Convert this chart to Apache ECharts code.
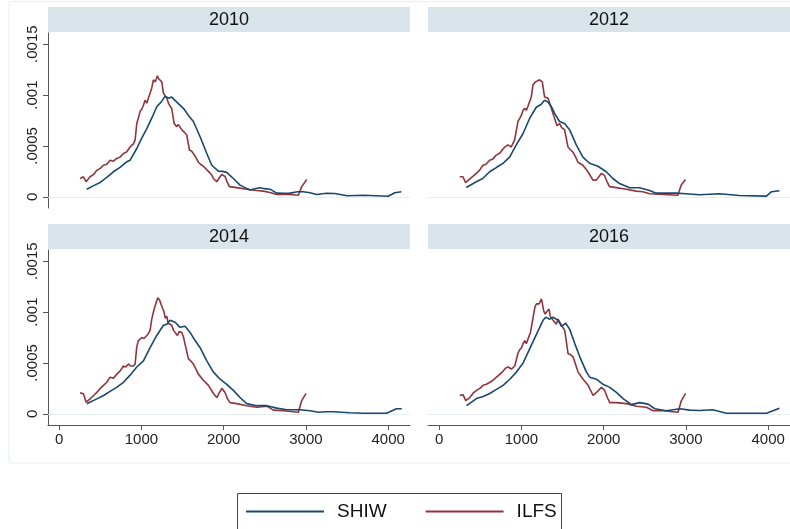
<!DOCTYPE html>
<html><head><meta charset="utf-8">
<script src="https://cdn.jsdelivr.net/npm/echarts@6/dist/echarts.min.js"></script>
<style>html,body{margin:0;padding:0;background:#fff}#c{width:790px;height:529px}</style>
</head><body><div id="c"></div>
<script>
const panelTitles = ['2010', '2012', '2014', '2016'];
const seriesNames = ['SHIW', 'ILFS'];
const xTickValues = [0, 1000, 2000, 3000, 4000];
const yTickValues = [0, 0.0005, 0.001, 0.0015];
const yTickLabels = ['0', '.0005', '.001', '.0015'];
const yGridValues = [0, 0.0005, 0.001];

const shiw2010X = [336,420,499,580,660,740,822,863,944,1000,1066,1130,1187,1248,1288,1329,1369,1430,1511,1572,1632,1714,1795,1855,1936,1990,2037,2118,2199,2260,2321,2380,2442,2500,2564,2645,2730,2807,2900,2969,3050,3130,3250,3350,3500,3700,3850,4000,4080,4160];
const shiw2010Y = [0.000075,0.00011,0.000141,0.00019,0.000246,0.00029,0.000344,0.00036,0.000475,0.00057,0.00067,0.00078,0.000885,0.00094,0.00099,0.00097,0.00098,0.00093,0.00087,0.0008,0.00074,0.00059,0.000426,0.00031,0.000252,0.00025,0.00024,0.00018,0.000115,0.00009,0.000066,0.00008,0.000089,0.00008,0.000075,0.000036,0.000035,0.000036,0.00005,0.00005,0.00004,0.000023,0.000035,0.000033,0.00001,0.000015,0.00001,0.000005,0.00004,0.00005];
const ilfs2010X = [255,296,328,377,420,458,500,539,580,620,660,701,740,782,820,863,903,924,944,965,985,1005,1025,1045,1066,1086,1106,1126,1146,1170,1195,1210,1227,1248,1268,1290,1309,1329,1350,1369,1398,1430,1450,1470,1490,1511,1551,1584,1610,1632,1660,1693,1720,1754,1815,1850,1876,1916,1950,1977,2017,2040,2070,2159,2280,2402,2483,2564,2645,2807,2908,2949,3010];
const ilfs2010Y = [0.00018,0.000197,0.000148,0.000197,0.00022,0.00026,0.00028,0.00031,0.00032,0.00036,0.00035,0.000377,0.00039,0.000426,0.00044,0.00049,0.00052,0.00056,0.00072,0.00078,0.00084,0.00086,0.0009,0.00095,0.00092,0.00097,0.00098,0.00107,0.00115,0.00113,0.00119,0.00116,0.00115,0.00113,0.00102,0.00099,0.00097,0.00092,0.00089,0.00087,0.00072,0.00069,0.00071,0.0007,0.00066,0.00067,0.00061,0.00046,0.00045,0.00044,0.00039,0.00034,0.00032,0.0003,0.00025,0.00022,0.00018,0.000148,0.00019,0.00022,0.0002,0.00015,0.0001,0.00009,0.000075,0.000062,0.000056,0.000043,0.000023,0.000023,0.000016,0.0001,0.00017];

const shiw2012X = [330,452,530,614,700,776,857,938,1019,1100,1181,1242,1282,1323,1363,1404,1464,1525,1586,1667,1748,1829,1930,2032,2112,2193,2315,2436,2558,2639,2882,3000,3165,3408,3651,3979,4040,4137];
const shiw2012Y = [0.000092,0.000148,0.00018,0.000246,0.00029,0.000328,0.00039,0.00051,0.00062,0.00077,0.00088,0.00091,0.00095,0.00093,0.00089,0.00082,0.00074,0.00072,0.00066,0.00051,0.00039,0.00033,0.0003,0.000246,0.00018,0.00013,0.000089,0.000089,0.000062,0.000036,0.000036,0.00003,0.00002,0.00003,0.000013,0.000007,0.00005,0.00006];
const ilfs2012X = [250,290,322,371,410,452,490,533,570,614,650,695,740,776,800,837,877,918,958,980,999,1020,1039,1060,1080,1100,1120,1141,1173,1195,1221,1254,1282,1300,1323,1340,1363,1404,1432,1464,1490,1525,1566,1600,1627,1660,1688,1748,1809,1870,1910,1945,1971,2011,2040,2072,2153,2275,2396,2477,2558,2720,2902,2943,2995];
const ilfs2012Y = [0.000197,0.000197,0.00014,0.000174,0.0002,0.00023,0.00026,0.00031,0.00032,0.00036,0.00037,0.00041,0.00043,0.00047,0.00049,0.00051,0.00049,0.00056,0.00074,0.00077,0.0008,0.00085,0.00087,0.00085,0.00089,0.0009,0.00098,0.0011,0.00113,0.00112,0.00115,0.00113,0.00098,0.00099,0.00097,0.00093,0.00092,0.00077,0.0007,0.00072,0.00068,0.00066,0.00049,0.00046,0.00044,0.00039,0.00034,0.00031,0.000246,0.000164,0.000164,0.0002,0.00023,0.00021,0.00015,0.0001,0.00009,0.000075,0.000056,0.00005,0.00003,0.000023,0.000016,0.000115,0.00017];

const shiw2014X = [336,458,540,620,700,782,863,944,1025,1106,1187,1268,1309,1349,1410,1470,1531,1592,1653,1714,1795,1876,1957,2037,2118,2199,2280,2402,2524,2645,2767,2929,3050,3151,3250,3330,3535,3700,3980,4100,4165];
const shiw2014Y = [0.000098,0.000147,0.00018,0.00022,0.00026,0.00031,0.00038,0.00046,0.00052,0.00065,0.00077,0.00087,0.00088,0.00092,0.0009,0.00085,0.00086,0.0008,0.00072,0.00065,0.00052,0.00041,0.00034,0.00029,0.00023,0.00016,0.0001,0.00008,0.00008,0.000056,0.00004,0.00004,0.00003,0.000016,0.00002,0.00002,0.00001,0.000006,0.000006,0.00005,0.00005];
const ilfs2014X = [255,296,328,377,420,458,500,539,580,620,660,701,740,782,810,843,870,903,924,944,964,985,1005,1030,1066,1086,1106,1126,1146,1167,1199,1220,1236,1256,1276,1290,1309,1325,1341,1369,1390,1410,1438,1460,1491,1510,1531,1572,1600,1632,1693,1754,1815,1876,1916,1950,1977,2017,2045,2078,2159,2280,2402,2524,2605,2726,2908,2949,3001];
const ilfs2014Y = [0.000206,0.000196,0.000114,0.000147,0.00018,0.00021,0.00025,0.00028,0.00031,0.00036,0.00035,0.00039,0.00042,0.00047,0.00046,0.00049,0.00047,0.00047,0.00049,0.00066,0.00072,0.00073,0.00075,0.00074,0.00077,0.00079,0.00082,0.00093,0.001,0.00106,0.00114,0.00112,0.00111,0.00104,0.001,0.00094,0.00096,0.00089,0.0009,0.00087,0.00082,0.00083,0.00077,0.00081,0.0008,0.00076,0.00075,0.00054,0.00052,0.00049,0.00039,0.00033,0.00028,0.0002,0.00016,0.00021,0.00025,0.00021,0.00015,0.00011,0.0001,0.00008,0.000065,0.000075,0.000036,0.00003,0.000016,0.00013,0.0002];

const shiw2016X = [333,454,535,616,697,778,859,940,1021,1102,1183,1264,1296,1345,1386,1446,1487,1539,1588,1649,1710,1791,1831,1912,1993,2074,2155,2236,2337,2438,2540,2621,2763,2925,3046,3168,3325,3493,3775,3979,4137];
const shiw2016Y = [0.00008,0.00015,0.00017,0.0002,0.00024,0.00028,0.00034,0.00041,0.0005,0.00064,0.00078,0.00092,0.00095,0.00093,0.00095,0.00092,0.00086,0.00089,0.00083,0.00069,0.00056,0.00041,0.00036,0.00034,0.00029,0.00026,0.00021,0.00015,0.00009,0.00011,0.000095,0.00005,0.00003,0.00005,0.000036,0.000033,0.00004,0.000006,0.000006,0.000006,0.000055];
const ilfs2016X = [251,292,324,373,410,454,495,535,575,616,655,697,740,778,810,839,879,920,960,980,1001,1020,1041,1060,1082,1110,1143,1165,1183,1215,1244,1272,1290,1305,1337,1350,1365,1386,1406,1425,1446,1487,1527,1568,1600,1628,1689,1750,1811,1872,1912,1973,2013,2045,2074,2155,2277,2398,2520,2601,2722,2904,2945,2997];
const ilfs2016Y = [0.00018,0.000186,0.00013,0.00016,0.0002,0.00023,0.00025,0.00028,0.00029,0.00031,0.00033,0.00036,0.00039,0.00042,0.00045,0.00046,0.00044,0.00047,0.0006,0.00063,0.00065,0.00069,0.00072,0.00069,0.0007,0.0008,0.00095,0.00105,0.00108,0.00108,0.00113,0.00101,0.00098,0.001,0.00103,0.00096,0.00095,0.00092,0.0009,0.00088,0.00093,0.00087,0.00082,0.00059,0.00058,0.00056,0.00041,0.00034,0.00028,0.00018,0.00021,0.00026,0.00023,0.00016,0.00011,0.00011,0.0001,0.000075,0.000065,0.00003,0.00003,0.000016,0.00013,0.0002];

const panelData = [
  [[shiw2010X, shiw2010Y], [ilfs2010X, ilfs2010Y]],
  [[shiw2012X, shiw2012Y], [ilfs2012X, ilfs2012Y]],
  [[shiw2014X, shiw2014Y], [ilfs2014X, ilfs2014Y]],
  [[shiw2016X, shiw2016Y], [ilfs2016X, ilfs2016Y]]
];

const FONT = 'Liberation Sans, Arial, Helvetica, sans-serif';
const colors = ['#1a476f', '#90353b'];
const gridPos = [
  {left: 48, top: 33}, {left: 428, top: 33},
  {left: 48, top: 250}, {left: 428, top: 250}
];
const W = 362, H = 175;
const XMIN = -135, XMAX = 4265, YMIN = -0.00011, YMAX = 0.00161;

const grids = [], xAxes = [], yAxes = [], series = [], graphics = [];

graphics.push({type: 'rect', shape: {x: 9, y: 1.5, width: 800, height: 461.5},
  style: {fill: null, stroke: '#e9eff1', lineWidth: 1}, z: 0});

gridPos.forEach((p, i) => {
  const isLeft = (i % 2 === 0), isBottom = (i >= 2);
  grids.push({left: p.left, top: p.top, width: W, height: H, containLabel: false});
  xAxes.push({
    type: 'value', gridIndex: i, min: XMIN, max: XMAX,
    axisLine: {show: isBottom, onZero: false, lineStyle: {color: '#555', width: 1}},
    axisTick: {show: isBottom, length: 5, customValues: xTickValues, lineStyle: {color: '#555'}},
    axisLabel: {show: isBottom, customValues: xTickValues, margin: 7, fontSize: 15, color: '#222', fontFamily: FONT,
      formatter: v => String(Math.round(v))},
    splitLine: {show: false}
  });
  yAxes.push({
    type: 'value', gridIndex: i, min: YMIN, max: YMAX,
    axisLine: {show: isLeft, onZero: false, lineStyle: {color: '#555', width: 1}},
    axisTick: {show: isLeft, length: 5, customValues: yTickValues, lineStyle: {color: '#555'}},
    axisLabel: {show: isLeft, customValues: yTickValues, rotate: 90, margin: 8, fontSize: 15, color: '#222', fontFamily: FONT,
      formatter: v => { const k = yTickValues.findIndex(t => Math.abs(t - v) < 1e-9); return k >= 0 ? yTickLabels[k] : ''; }},
    splitLine: {show: false}
  });
  series.push({
    type: 'line', name: 'grid' + i, xAxisIndex: i, yAxisIndex: i, data: [], silent: true, z: 1,
    markLine: {silent: true, symbol: 'none', label: {show: false},
      lineStyle: {color: '#e6eef1', width: 1, type: 'solid'},
      data: yGridValues.map(v => ({yAxis: v}))}
  });
  panelData[i].forEach((d, s) => {
    series.push({
      type: 'line', name: seriesNames[s], xAxisIndex: i, yAxisIndex: i, z: 3 + (1 - s),
      showSymbol: false, symbol: 'none', smooth: false,
      lineStyle: {color: colors[s], width: 1.6}, itemStyle: {color: colors[s]},
      data: d[0].map((x, k) => [x, d[1][k]])
    });
  });
  const sx = p.left, sy = p.top - 26;
  graphics.push({type: 'rect', shape: {x: sx, y: sy, width: W, height: 25}, style: {fill: '#d9e5eb'}, z: 1});
  graphics.push({type: 'text', x: sx + W / 2, y: sy + 13, style: {text: panelTitles[i], fill: '#111',
    font: '18px ' + FONT, textAlign: 'center', textVerticalAlign: 'middle'}, z: 2});
});

graphics.push({type: 'rect', shape: {x: 237.5, y: 493.5, width: 324, height: 45},
  style: {fill: '#fff', stroke: '#444', lineWidth: 1}, z: 1});

const chart = echarts.init(document.getElementById('c'), null, {renderer: 'canvas'});
chart.setOption({
  animation: false,
  backgroundColor: '#fff',
  grid: grids, xAxis: xAxes, yAxis: yAxes, series: series,
  graphic: graphics,
  legend: {
    data: seriesNames, left: 246, top: 502, itemWidth: 78, itemHeight: 2, itemGap: 39,
    icon: 'rect', padding: 0,
    textStyle: {fontSize: 19, color: '#111', fontFamily: FONT, padding: [0, 0, 0, 8]}
  }
});
</script></body></html>
